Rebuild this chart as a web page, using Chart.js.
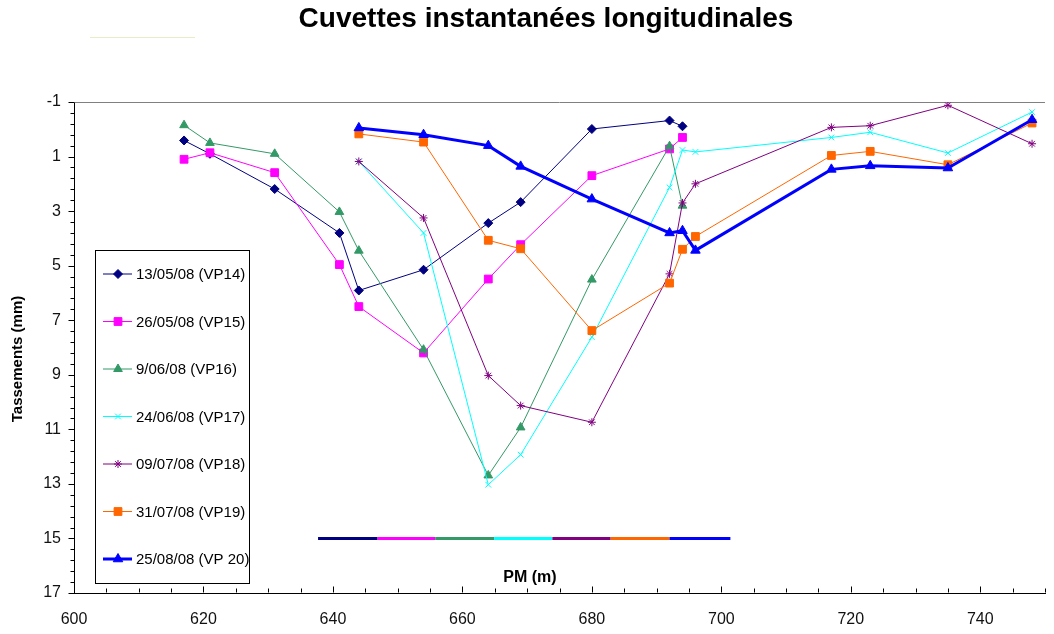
<!DOCTYPE html>
<html>
<head>
<meta charset="utf-8">
<title>Cuvettes instantanées longitudinales</title>
<script src="https://cdn.jsdelivr.net/npm/chart.js@4.4.1/dist/chart.umd.min.js"></script>
<style>
  html, body { margin: 0; padding: 0; background: #fff; overflow: hidden; }
  #wrap { position: relative; width: 1054px; height: 634px; overflow: hidden; }
  #title {
    position: absolute; left: 0; top: 2px; width: 1092px;
    text-align: center; color: #000;
    font: bold 28px "Liberation Sans", Arial, sans-serif;
  }
  #mark { position: absolute; left: 90px; top: 37px; width: 105px; height: 1px; background: #e6efc4; }
  #chart { position: absolute; left: 0; top: 0; }
</style>
</head>
<body>
<div id="wrap">
  <canvas id="chart" width="1062" height="634"></canvas>
  <div id="title">Cuvettes instantanées longitudinales</div>
  <div id="mark"></div>
</div>
<script>
// PM (m) of the measuring points
const pm = [617, 621, 631, 641, 644, 654, 664, 669, 680, 692, 694, 696, 717, 723, 735, 748];

// settlements (mm), null where the survey has no point
const vp14 = [0.41, 0.9, 2.19, 3.8, 5.91, 5.15, 3.44, 2.67, -0.01, -0.32, -0.11, null, null, null, null, null];
const vp15 = [1.1, 0.86, 1.59, 4.96, 6.5, 8.2, 5.49, 4.23, 1.7, 0.72, 0.3, null, null, null, null, null];
const vp16 = [-0.15, 0.5, 0.9, 3.03, 4.45, 8.08, 12.69, 10.93, 5.51, 0.62, 2.8, null, null, null, null, null];
const vp17 = [null, null, null, null, 1.18, 3.8, 13.03, 11.93, 7.62, 2.13, 0.76, 0.83, 0.3, 0.11, 0.87, -0.63];
const vp18 = [null, null, null, null, 1.18, 3.25, 9.03, 10.13, 10.74, 5.3, 2.7, 2.0, -0.07, -0.13, -0.88, 0.53];
const vp19 = [null, null, null, null, 0.17, 0.47, 4.07, 4.38, 7.38, 5.64, 4.4, 3.93, 0.96, 0.81, 1.3, -0.23];
const vp20 = [null, null, null, null, -0.05, 0.2, 0.6, 1.36, 2.56, 3.8, 3.72, 4.44, 1.47, 1.34, 1.42, -0.35];

const seriesLabels = ['13/05/08 (VP14)', '26/05/08 (VP15)', '9/06/08 (VP16)', '24/06/08 (VP17)',
  '09/07/08 (VP18)', '31/07/08 (VP19)', '25/08/08 (VP 20)'];
const seriesValues = [vp14, vp15, vp16, vp17, vp18, vp19, vp20];
const seriesColors = ['#000080', '#ff00ff', '#339966', '#00ffff', '#800080', '#ff6600', '#0000ff'];
const pointStyles = ['rectRot', 'rect', 'triangle', 'crossRot', 'star', 'rect', 'triangle'];
const pointRadii = [4.5, 5.5, 5, 4, 4, 5.5, 5.5];
const lineWidths = [1, 1, 1, 1, 1, 1, 3];

// coloured strip drawn at 15 mm (one segment per survey)
const stripX = [637.7, 646.9, 655.8, 664.9, 673.9, 682.9, 692.0, 701.4];
const stripY = 15;

const xMin = 600, xMax = 750, xStep = 20, xMinor = 5;
const yMin = -1, yMax = 17, yStep = 2, yMinor = 0.4;

const FONT = '"Liberation Sans", Arial, sans-serif';

function toPoints(values) {
  const pts = [];
  values.forEach((v, i) => {
    if (v !== null) pts.push({ x: pm[i], y: v });
  });
  return pts;
}

const datasets = seriesValues.map((vals, i) => ({
  label: seriesLabels[i],
  data: toPoints(vals),
  borderColor: seriesColors[i],
  backgroundColor: seriesColors[i],
  borderWidth: lineWidths[i],
  pointStyle: pointStyles[i],
  pointRadius: pointRadii[i],
  pointBorderWidth: 1,
  pointBorderColor: seriesColors[i],
  pointBackgroundColor: seriesColors[i],
  tension: 0,
  order: 6 - i
}));

datasets.push({
  label: 'strip',
  data: stripX.map(x => ({ x: x, y: stripY })),
  borderWidth: 3,
  pointRadius: 0,
  borderColor: seriesColors[0],
  segment: { borderColor: ctx => seriesColors[ctx.p0DataIndex] },
  order: 10
});

function drawMarker(ctx, i, x, y) {
  const opts = { pointStyle: pointStyles[i], radius: pointRadii[i], rotation: 0, borderWidth: 1 };
  ctx.fillStyle = seriesColors[i];
  ctx.strokeStyle = seriesColors[i];
  ctx.lineWidth = 1;
  Chart.helpers.drawPoint(ctx, opts, x, y);
}

const decor = {
  id: 'decor',
  beforeDatasetsDraw(chart) {
    const { ctx, chartArea, scales: { x, y } } = chart;
    ctx.save();
    ctx.lineWidth = 1;

    // grey line at the top of the plot
    const yt = Math.round(y.getPixelForValue(yMin)) + 0.5;
    ctx.strokeStyle = '#808080';
    ctx.beginPath();
    ctx.moveTo(chartArea.left, yt);
    ctx.lineTo(chartArea.right, yt);
    ctx.stroke();

    // y ticks, outside
    ctx.strokeStyle = '#000';
    const nY = Math.round((yMax - yMin) / yMinor);
    const left = Math.round(chartArea.left) + 0.5;
    for (let k = 0; k <= nY; k++) {
      const py = Math.round(y.getPixelForValue(yMin + k * yMinor)) + 0.5;
      const len = k % 5 === 0 ? 6 : 4;
      ctx.beginPath();
      ctx.moveTo(left - len, py);
      ctx.lineTo(left, py);
      ctx.stroke();
    }

    // x ticks, inside
    const bottom = Math.round(chartArea.bottom) - 0.5;
    for (let v = xMin; v <= xMax; v += xMinor) {
      const px = Math.round(x.getPixelForValue(v)) + 0.5;
      const len = (v - xMin) % xStep === 0 ? 6 : 4;
      ctx.beginPath();
      ctx.moveTo(px, bottom);
      ctx.lineTo(px, bottom - len);
      ctx.stroke();
    }
    ctx.restore();
  },
  afterDraw(chart) {
    const { ctx } = chart;
    ctx.save();

    // axis titles
    ctx.fillStyle = '#000';
    ctx.font = 'bold 16px ' + FONT;
    ctx.textAlign = 'center';
    ctx.textBaseline = 'middle';
    ctx.fillText('PM (m)', 530, 578);

    ctx.save();
    ctx.translate(18, 359);
    ctx.rotate(-Math.PI / 2);
    ctx.font = 'bold 15px ' + FONT;
    ctx.fillText('Tassements (mm)', 0, 0);
    ctx.restore();

    // legend
    ctx.fillStyle = '#fff';
    ctx.fillRect(95.5, 250.5, 154, 333);
    ctx.strokeStyle = '#000';
    ctx.lineWidth = 1;
    ctx.strokeRect(95.5, 250.5, 154, 333);
    ctx.font = '15px ' + FONT;
    ctx.textAlign = 'left';
    seriesLabels.forEach((label, i) => {
      const ly = 274 + i * 47.5;
      ctx.strokeStyle = seriesColors[i];
      ctx.lineWidth = lineWidths[i];
      ctx.beginPath();
      ctx.moveTo(103, ly);
      ctx.lineTo(132, ly);
      ctx.stroke();
      drawMarker(ctx, i, 118, ly);
      ctx.fillStyle = '#000';
      ctx.fillText(label, 136, ly + 1);
    });
    ctx.restore();
  }
};

new Chart(document.getElementById('chart'), {
  type: 'line',
  data: { datasets: datasets },
  options: {
    responsive: false,
    animation: false,
    layout: { padding: { top: 102, left: 0, right: 0, bottom: 0 } },
    plugins: {
      legend: { display: false },
      tooltip: { enabled: false },
      title: { display: false }
    },
    scales: {
      x: {
        type: 'linear',
        min: xMin,
        max: xMax,
        afterFit: s => { s.height = 41; },
        grid: { display: false, drawTicks: false },
        border: { display: true, color: '#000', width: 1 },
        ticks: {
          stepSize: xStep,
          padding: 17,
          color: '#111',
          font: { family: FONT, size: 16 },
          maxRotation: 0,
          callback: v => ((v - xMin) % xStep === 0 ? v : '')
        }
      },
      y: {
        min: yMin,
        max: yMax,
        reverse: true,
        afterFit: s => { s.width = 74; },
        grid: { display: false, drawTicks: false },
        border: { display: true, color: '#000', width: 1 },
        ticks: {
          stepSize: yStep,
          padding: 13,
          color: '#111',
          font: { family: FONT, size: 16 }
        }
      }
    }
  },
  plugins: [decor]
});
</script>
</body>
</html>
